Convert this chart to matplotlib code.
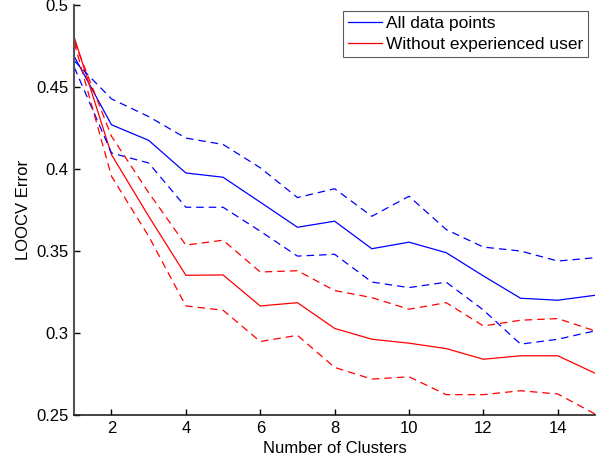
import numpy as np
import matplotlib.pyplot as plt

plt.rcParams['font.family'] = ['Liberation Sans', 'DejaVu Sans']

# Data

clusters = np.arange(1, 16)

all_mean = [0.4686, 0.427, 0.4175, 0.3976, 0.395, 0.3798, 0.3645, 0.3682,
            0.3514, 0.3554, 0.349, 0.3348, 0.3212, 0.320, 0.323]
all_upper = [0.466, 0.4428, 0.432, 0.4189, 0.4150, 0.4008, 0.3826, 0.388,
             0.3712, 0.3834, 0.3631, 0.3524, 0.350, 0.3439, 0.3459]
all_lower = [0.462, 0.4098, 0.4037, 0.3767, 0.3767, 0.3621, 0.3469, 0.348,
             0.3311, 0.3277, 0.331, 0.314, 0.2932, 0.2962, 0.3013]

exp_mean = [0.4803, 0.4088, 0.3712, 0.3352, 0.3354, 0.3165, 0.3185, 0.3028,
            0.2962, 0.2938, 0.2905, 0.284, 0.2861, 0.2861, 0.2755]
exp_upper = [0.478, 0.420, 0.3856, 0.3536, 0.3566, 0.3372, 0.338, 0.3259,
             0.3216, 0.3145, 0.3185, 0.3043, 0.3078, 0.3088, 0.3013]
exp_lower = [0.477, 0.3956, 0.359, 0.3165, 0.3139, 0.2948, 0.2986, 0.279,
             0.2719, 0.2733, 0.2624, 0.2624, 0.2648, 0.2628, 0.2506]

yticks = [0.25, 0.3, 0.35, 0.4, 0.45, 0.5]
ytick_labels = ['0.25', '0.3', '0.35', '0.4', '0.45', '0.5']
xticks = [2, 4, 6, 8, 10, 12, 14]

# Plot

fig = plt.figure(figsize=(6.06, 4.63), dpi=100)
ax = fig.add_axes([0.1226, 0.1037, 0.8592, 0.8853])

dash = (0, (6, 4))
lw = 0.9

ax.plot(clusters, all_mean, c='b', lw=lw, label='All data points')
ax.plot(clusters, exp_mean, c='r', lw=lw, label='Without experienced user')
ax.plot(clusters, all_upper, c='b', lw=lw, linestyle=dash)
ax.plot(clusters, all_lower, c='b', lw=lw, linestyle=dash)
ax.plot(clusters, exp_upper, c='r', lw=lw, linestyle=dash)
ax.plot(clusters, exp_lower, c='r', lw=lw, linestyle=dash)

ax.set_xlim(1, 15)
ax.set_ylim(0.25, 0.5)
ax.set_xticks(xticks)
ax.set_yticks(yticks)
ax.set_yticklabels(ytick_labels)
ax.tick_params(direction='in', length=4, labelsize=12, width=1, pad=4)

ax.spines['top'].set_visible(False)
ax.spines['right'].set_visible(False)
ax.spines['left'].set_color('#555555')
ax.spines['bottom'].set_color('#222222')
ax.spines['left'].set_linewidth(1.5)
ax.spines['bottom'].set_linewidth(1.2)

ax.set_xlabel('Number of Clusters', fontsize=12, labelpad=4)
ax.set_ylabel('LOOCV Error', fontsize=12, labelpad=4)

leg = ax.legend(loc='upper right', bbox_to_anchor=(0.9866, 0.985), fontsize=12.5,
                frameon=True, fancybox=False, edgecolor='#333333',
                handlelength=2.0, handletextpad=0.23, borderpad=0.26,
                labelspacing=0.345, borderaxespad=0)
leg.get_frame().set_linewidth(0.8)

fig.savefig('out.png', dpi=100)
